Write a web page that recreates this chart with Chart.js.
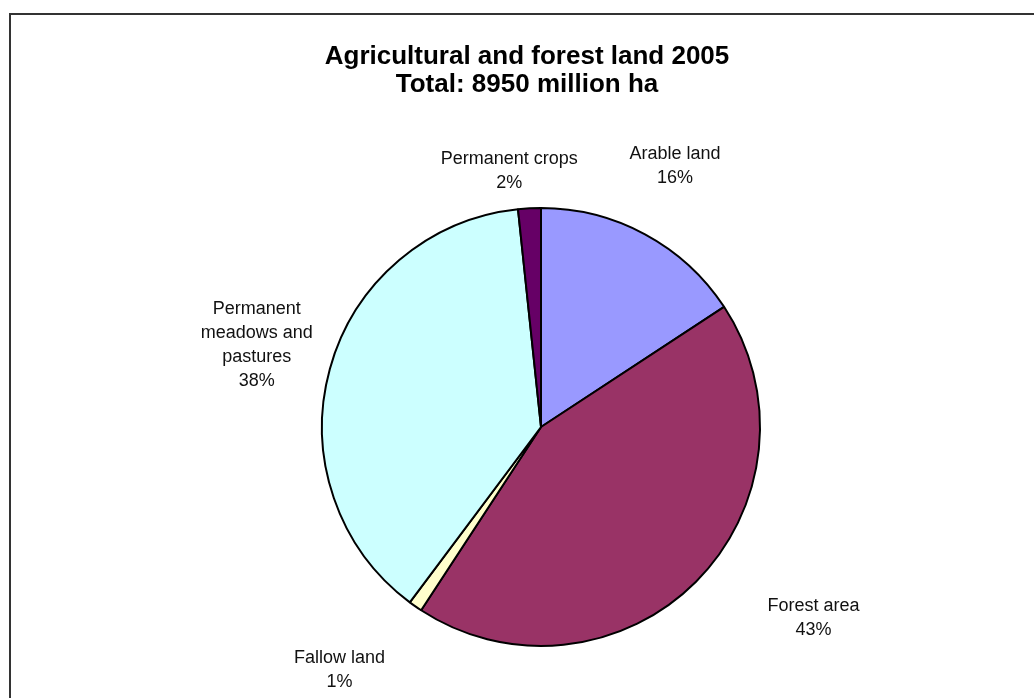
<!DOCTYPE html>
<html>
<head>
<meta charset="utf-8">
<title>Agricultural and forest land 2005</title>
<script src="https://cdn.jsdelivr.net/npm/chart.js@4.4.0/dist/chart.umd.min.js"></script>
<style>
  html, body { margin: 0; padding: 0; background: #fff; }
  #wrap { width: 1034px; height: 698px; }
</style>
</head>
<body>
<div id="wrap"><canvas id="myChart" width="1034" height="698"></canvas></div>
<script>
// land use, million ha (total 8950)
var labels = ["Arable land", "Forest area", "Fallow land", "Permanent meadows and pastures", "Permanent crops"];
var areas = [1410, 3890, 90, 3410, 150];
var colors = ["#9999FF", "#993366", "#FFFFCC", "#CCFFFF", "#660066"];
// how each label is broken into lines
var labelLines = [["Arable land"], ["Forest area"], ["Fallow land"], ["Permanent", "meadows and", "pastures"], ["Permanent crops"]];
var titleLines = ["Agricultural and forest land 2005", "Total: 8950 million ha"];

// small hand tweaks so labels sit where Excel put them
var nudge = [[-8, 2], [61, -20], [-30, -2], [4, -3], [-16, 43]];

var frameAndText = {
  id: "frameAndText",
  beforeDraw: function(chart) {
    var ctx = chart.ctx;
    ctx.save();
    ctx.strokeStyle = "#333";
    ctx.lineWidth = 2;
    ctx.strokeRect(10, 14, 1100, 800);
    ctx.restore();
  },
  afterDraw: function(chart) {
    var ctx = chart.ctx;
    ctx.save();
    ctx.fillStyle = "#000";
    ctx.textAlign = "center";
    ctx.textBaseline = "middle";
    ctx.font = "bold 26px 'Liberation Sans', Arial, sans-serif";
    for (var t = 0; t < titleLines.length; t++) {
      ctx.fillText(titleLines[t], 527, 57 + t * 28);
    }

    var total = areas.reduce(function(a, b) { return a + b; }, 0);
    var arcs = chart.getDatasetMeta(0).data;
    ctx.font = "18px 'Liberation Sans', Arial, sans-serif";
    ctx.fillStyle = "#111";
    for (var i = 0; i < arcs.length; i++) {
      var p = arcs[i].getProps(["x", "y", "startAngle", "endAngle", "outerRadius"], true);
      var mid = (p.startAngle + p.endAngle) / 2;
      var d = p.outerRadius + 80;
      var cx = p.x + Math.cos(mid) * d + nudge[i][0];
      var cy = p.y + Math.sin(mid) * d + nudge[i][1];
      var lines = labelLines[i].concat([Math.round(areas[i] / total * 100) + "%"]);
      var lh = 24;
      var y0 = cy - (lines.length - 1) * lh / 2;
      for (var k = 0; k < lines.length; k++) {
        ctx.fillText(lines[k], cx, y0 + k * lh);
      }
    }
    ctx.restore();
  }
};

new Chart(document.getElementById("myChart"), {
  type: "pie",
  data: {
    labels: labels,
    datasets: [{
      data: areas,
      backgroundColor: colors,
      borderColor: "#000",
      borderWidth: 2
    }]
  },
  options: {
    responsive: false,
    animation: false,
    events: [],
    layout: { padding: { left: 321, right: 273, top: 207, bottom: 51 } },
    plugins: {
      legend: { display: false },
      title: { display: false },
      tooltip: { enabled: false }
    }
  },
  plugins: [frameAndText]
});
</script>
</body>
</html>
